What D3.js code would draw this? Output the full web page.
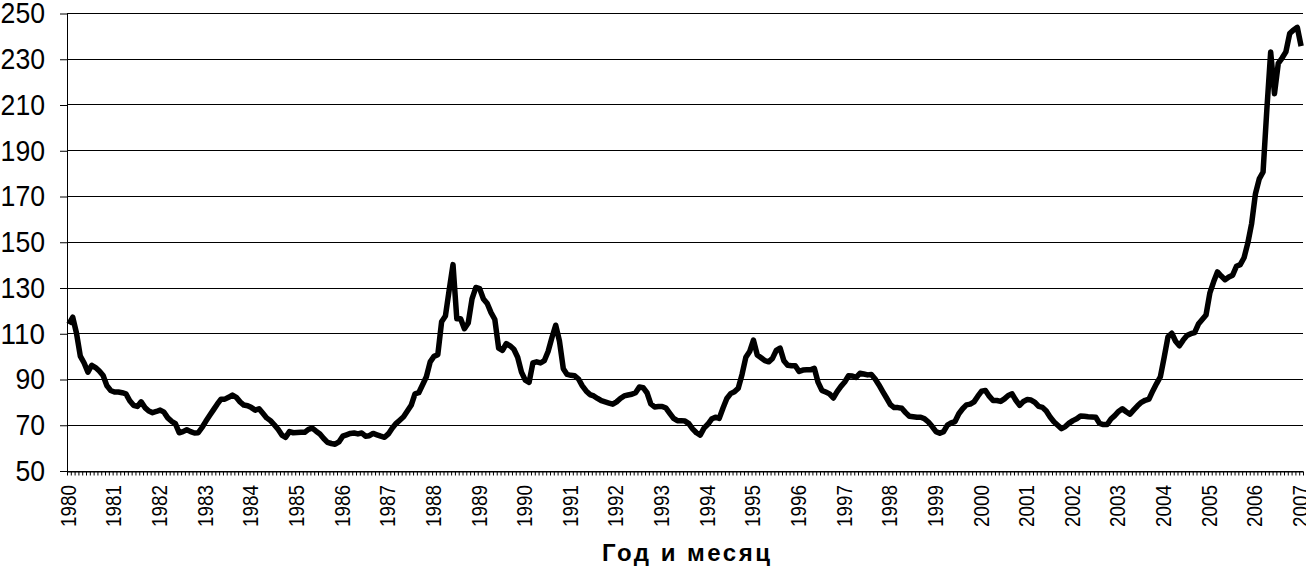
<!DOCTYPE html>
<html>
<head>
<meta charset="utf-8">
<script src="https://cdn.jsdelivr.net/npm/d3@7"></script>
<style>
  body { margin: 0; background: #fff; }
  svg text { font-family: "Liberation Sans", Arial, sans-serif; fill: #000; }
</style>
</head>
<body>
<div id="chart"></div>
<script>
// Year labels on the x axis (one category per month, Jan 1980 .. Jan 2007)
const yearLabels = ["1980", "1981", "1982", "1983", "1984", "1985", "1986", "1987", "1988", "1989",
    "1990", "1991", "1992", "1993", "1994", "1995", "1996", "1997", "1998", "1999",
    "2000", "2001", "2002", "2003", "2004", "2005", "2006", "2007"];
const monthNames = ["01", "02", "03", "04", "05", "06", "07", "08", "09", "10", "11", "12"];

// y axis ticks
const yTicks = [50, 70, 90, 110, 130, 150, 170, 190, 210, 230, 250];

// Monthly values
const values1980s = [
    114, 117, 110, 100, 97, 93, 96, 95, 93.5, 91.5, 87, 85,                     // 1980
    84.3, 84.3, 84, 83.5, 80.5, 78.5, 78, 80, 77.5, 76, 75.3, 75.8,             // 1981
    76.4, 75.5, 73, 71.5, 70.5, 66.5, 67, 67.8, 67, 66.4, 66.5, 68.8,           // 1982
    71.5, 74, 76.5, 79, 81.2, 81.2, 82, 83, 82, 80, 78.6, 78.3,                 // 1983
    77.5, 76.4, 77, 75, 73, 71.8, 70, 68, 65.5, 64.5, 67, 66.5,                 // 1984
    66.6, 66.7, 66.7, 68, 68.5, 67.2, 66, 64, 62.3, 61.8, 61.5, 62.5,           // 1985
    65, 65.6, 66.2, 66.4, 66, 66.4, 65, 65.2, 66.2, 65.6, 65, 64.5,             // 1986
    66, 68.5, 70.5, 72, 73.5, 76, 78.5, 83.5, 84, 87.5, 91, 97.5,               // 1987
    99.9, 100.6, 115, 117.5, 129, 140, 116.3, 116.3, 112, 114.5, 125, 130,      // 1988
    129.5, 125, 123, 119, 116, 103.5, 102.5, 105.5, 104.5, 103, 99.5, 93        // 1989
];
const values1990s = [
    89.5, 88.5, 97, 97.5, 97, 98, 102, 108, 113.5, 106.5, 94.5, 92,             // 1990
    91.6, 91.4, 90, 87, 84.8, 83.2, 82.6, 81.5, 80.5, 80, 79.5, 79,             // 1991
    80, 81.5, 82.6, 83, 83.3, 84, 86.5, 86.2, 84, 79.1, 77.8, 78,               // 1992
    78, 77.3, 75, 72.8, 71.8, 71.8, 71.6, 70.5, 68.2, 66.5, 65.5, 68.5,         // 1993
    70.2, 72.5, 73.3, 72.8, 77.3, 81.5, 83.6, 84.4, 86, 92, 99.5, 102,          // 1994
    107, 100.5, 99.3, 98, 97.5, 99, 102.5, 103.5, 98, 96, 95.8, 95.8,           // 1995
    93.3, 93.9, 94, 94, 94.7, 88.5, 85, 84.3, 83.5, 81.7, 84.5, 86.8,           // 1996
    88.7, 91.4, 91.3, 90.7, 92.5, 92.2, 91.8, 92, 90, 87.4, 84.5, 81.7,         // 1997
    78.8, 77.5, 77.5, 77.2, 75.3, 73.7, 73.5, 73.3, 73.3, 72.6, 71.2, 69.2,     // 1998
    67, 66.3, 67, 69.8, 70.8, 71.4, 74.8, 77, 78.7, 79, 80, 82.5                // 1999
];
const values2000s = [
    84.7, 85, 82.5, 80.6, 80.6, 80.2, 81.3, 82.8, 83.5, 80.7, 78.5, 80.2,       // 2000
    81, 80.8, 79.8, 78, 77.6, 76, 73.4, 71.3, 69.8, 68.3, 69.2, 70.7,           // 2001
    71.8, 72.6, 73.8, 73.7, 73.5, 73.4, 73.3, 70.6, 70.1, 70.1, 72.5, 74,       // 2002
    75.8, 77, 75.7, 74.6, 76.5, 78.3, 79.8, 80.7, 81.2, 84.8, 88, 91,           // 2003
    99.5, 108.5, 110, 106.5, 104.5, 107, 109, 109.8, 110.3, 114, 116, 118,      // 2004
    127.5, 132.5, 136.8, 135, 133.4, 134.6, 135.4, 139.3, 140, 143, 149.5, 158, // 2005
    171, 177.5, 180.5, 208, 233, 214.7, 228, 230.3, 233, 241, 242.6, 243.7,     // 2006
    235.5                                                                       // 2007
];

// Build month categories and the series
const values = values1980s.concat(values1990s, values2000s);
const months = [];
yearLabels.forEach(yr => monthNames.forEach(m => months.push(yr + "-" + m)));
const data = values.map((v, i) => ({month: months[i], value: v}));

// Plot area
const W = 1306, H = 572;
const plot = {left: 67, right: 1303, top: 13, bottom: 470.5};

const svg = d3.select("#chart")
    .append("svg")
    .attr("width", W)
    .attr("height", H);

// Set up scales
const x = d3.scaleBand()
    .domain(data.map(d => d.month))
    .range([plot.left, plot.right]);

const xIndex = d3.scaleLinear()
    .domain([0, data.length])
    .range([plot.left, plot.right]);

const y = d3.scaleLinear()
    .domain([50, 250])
    .range([plot.bottom, plot.top]);

// Horizontal gridlines
svg.append("g")
    .selectAll("line")
    .data(yTicks)
    .enter()
    .append("line")
    .attr("x1", plot.left)
    .attr("x2", plot.right)
    .attr("y1", d => Math.round(y(d)) + 0.5)
    .attr("y2", d => Math.round(y(d)) + 0.5)
    .attr("stroke", "#000")
    .attr("stroke-width", 1);

// y axis (labels right edge at x = 45)
const yLabelWidth = d => String(d).length * 14.8;
const yAxis = svg.append("g")
    .attr("transform", `translate(${plot.left},0)`)
    .call(d3.axisLeft(y).tickValues(yTicks).tickSize(7).tickSizeOuter(0));
yAxis.select(".domain").attr("stroke", "#000");
yAxis.selectAll(".tick line").attr("stroke", "#000")
    .attr("transform", "translate(0,0.5)");
yAxis.selectAll("text")
    .attr("font-size", 29)
    .attr("font-family", "Liberation Sans, Arial, sans-serif")
    .attr("text-anchor", "start")
    .attr("x", d => 45 - plot.left - yLabelWidth(d))
    .attr("dy", "0.34em")
    .attr("textLength", yLabelWidth)
    .attr("lengthAdjust", "spacingAndGlyphs");

// x axis: small tick between every month
const xTicks = svg.append("g")
    .attr("transform", `translate(0,${Math.round(plot.bottom) + 0.5})`)
    .call(d3.axisBottom(xIndex)
        .tickValues(d3.range(0, data.length + 1))
        .tickSize(4)
        .tickSizeOuter(0)
        .tickFormat(""));
xTicks.select(".domain").attr("stroke", "#000");
xTicks.selectAll(".tick line").attr("stroke", "#000");

// x axis: year labels under each January, rotated
const januaries = months.filter(m => m.endsWith("-01") && months.indexOf(m) < data.length);
const xLabels = svg.append("g")
    .attr("transform", `translate(0,${plot.bottom})`)
    .call(d3.axisBottom(x)
        .tickValues(januaries)
        .tickSize(0)
        .tickFormat(d => d.slice(0, 4)));
xLabels.select(".domain").remove();
xLabels.selectAll("text")
    .attr("font-size", 22)
    .attr("font-family", "Liberation Sans, Arial, sans-serif")
    .attr("transform", "rotate(-90)")
    .attr("text-anchor", "start")
    .attr("x", -14.5 - 42)
    .attr("y", -1)
    .attr("dy", "0.36em")
    .attr("textLength", 42)
    .attr("lengthAdjust", "spacingAndGlyphs");

// The line
const line = d3.line()
    .x(d => x(d.month) + x.bandwidth() / 2)
    .y(d => y(d.value));

svg.append("path")
    .datum(data)
    .attr("d", line)
    .attr("fill", "none")
    .attr("stroke", "#000")
    .attr("stroke-width", 5.5)
    .attr("stroke-linejoin", "round");

// Axis title
svg.append("text")
    .attr("x", 602)
    .attr("y", 561)
    .attr("text-anchor", "start")
    .attr("font-size", 24)
    .attr("font-weight", "bold")
    .attr("textLength", 168)
    .attr("lengthAdjust", "spacing")
    .text("Год и месяц");
</script>
</body>
</html>
